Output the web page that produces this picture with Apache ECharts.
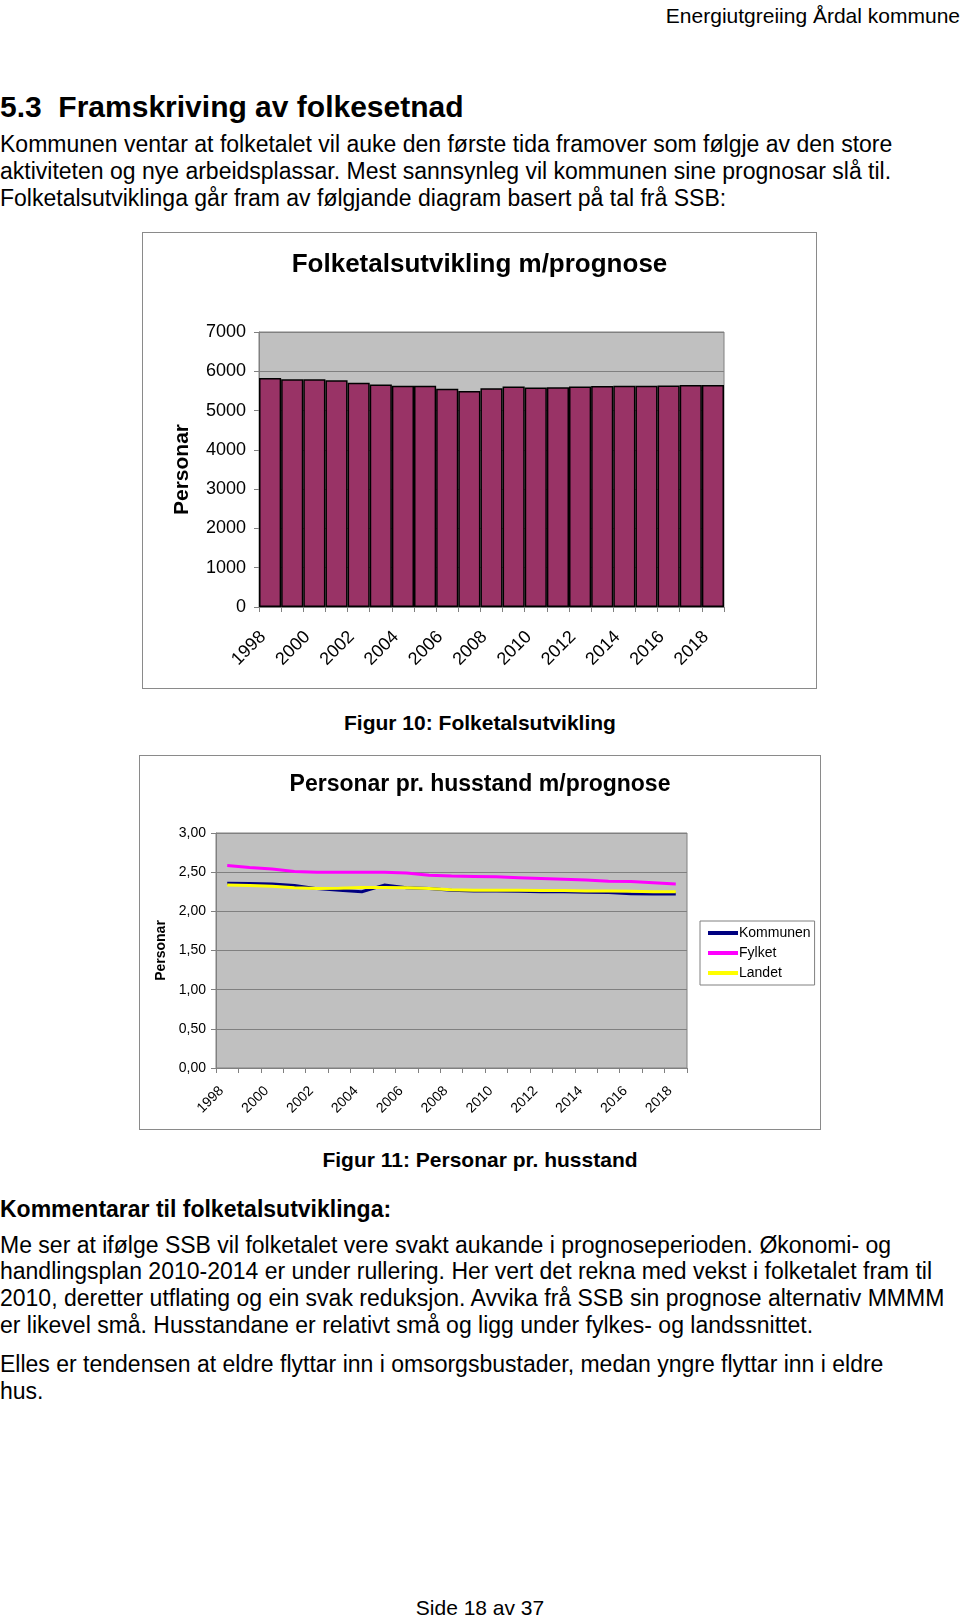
<!DOCTYPE html>
<html><head><meta charset="utf-8">
<script src="https://cdn.jsdelivr.net/npm/echarts@6/dist/echarts.min.js"></script>
<style>
html,body{margin:0;padding:0;background:#fff;}
body{width:960px;height:1619px;position:relative;overflow:hidden;font-family:"Liberation Sans",Arial,sans-serif;color:#000;}
.t{position:absolute;white-space:nowrap;}
.p{font-size:23px;line-height:26px;left:0;}
.c{left:0;width:960px;text-align:center;}
#c1{position:absolute;left:142px;top:232px;width:673px;height:455px;border:1px solid #8a8a8a;}
#c2{position:absolute;left:139px;top:755px;width:680px;height:373px;border:1px solid #8a8a8a;}
</style></head><body>
<div class="t" style="right:0;top:3px;font-size:21px;line-height:26px;">Energiutgreiing Årdal kommune</div>
<div class="t" style="left:0;top:91px;font-size:30px;line-height:32px;font-weight:bold;">5.3&nbsp;&nbsp;Framskriving av folkesetnad</div>
<div class="t p" style="top:131px;">Kommunen ventar at folketalet vil auke den første tida framover som følgje av den store</div>
<div class="t p" style="top:158px;">aktiviteten og nye arbeidsplassar. Mest sannsynleg vil kommunen sine prognosar slå til.</div>
<div class="t p" style="top:185px;">Folketalsutviklinga går fram av følgjande diagram basert på tal frå SSB:</div>
<div id="c1"></div>
<div class="t c" style="top:710px;font-size:21px;line-height:26px;font-weight:bold;">Figur 10: Folketalsutvikling</div>
<div id="c2"></div>
<div class="t c" style="top:1147px;font-size:21px;line-height:26px;font-weight:bold;">Figur 11: Personar pr. husstand</div>
<div class="t" style="left:0;top:1196px;font-size:23px;line-height:26px;font-weight:bold;">Kommentarar til folketalsutviklinga:</div>
<div class="t p" style="top:1232px;">Me ser at ifølge SSB vil folketalet vere svakt aukande i prognoseperioden. Økonomi- og</div>
<div class="t p" style="top:1258px;">handlingsplan 2010-2014 er under rullering. Her vert det rekna med vekst i folketalet fram til</div>
<div class="t p" style="top:1285px;">2010, deretter utflating og ein svak reduksjon. Avvika frå SSB sin prognose alternativ MMMM</div>
<div class="t p" style="top:1312px;">er likevel små. Husstandane er relativt små og ligg under fylkes- og landssnittet.</div>
<div class="t p" style="top:1351px;">Elles er tendensen at eldre flyttar inn i omsorgsbustader, medan yngre flyttar inn i eldre</div>
<div class="t p" style="top:1378px;">hus.</div>
<div class="t c" style="top:1595px;font-size:21px;line-height:26px;">Side 18 av 37</div>
<script>
var years = ['1998','1999','2000','2001','2002','2003','2004','2005','2006','2007','2008','2009','2010','2011','2012','2013','2014','2015','2016','2017','2018'];
var folketal = [5830,5800,5800,5770,5710,5665,5630,5630,5555,5500,5570,5615,5590,5595,5610,5625,5630,5635,5640,5650,5650];
var yTicks1 = [0,1000,2000,3000,4000,5000,6000,7000];
var kommunen = [2.36,2.355,2.35,2.33,2.29,2.27,2.25,2.335,2.30,2.29,2.27,2.26,2.26,2.255,2.25,2.25,2.245,2.24,2.225,2.22,2.22];
var fylket   = [2.585,2.56,2.54,2.51,2.50,2.50,2.50,2.50,2.49,2.46,2.45,2.445,2.44,2.43,2.42,2.41,2.40,2.385,2.38,2.365,2.35];
var landet   = [2.335,2.33,2.32,2.30,2.29,2.295,2.305,2.305,2.30,2.29,2.275,2.27,2.27,2.27,2.265,2.265,2.26,2.26,2.255,2.25,2.25];
var yTicks2 = [0,0.5,1,1.5,2,2.5,3];

var F = '"Liberation Sans", Arial, sans-serif';
var c1 = echarts.init(document.getElementById('c1'));
c1.setOption({
  animation:false,
  textStyle:{fontFamily:F},
  title:{text:'Folketalsutvikling m/prognose',left:'center',top:14,textStyle:{fontFamily:F,fontSize:26,fontWeight:'bold',color:'#000'}},
  grid:{left:116,top:99,width:465,height:275,show:true,backgroundColor:'#C0C0C0',borderColor:'#808080',borderWidth:1},
  xAxis:{type:'category',data:years,
    axisLine:{lineStyle:{color:'#808080',width:1}},
    axisTick:{show:true,interval:0,length:5,lineStyle:{color:'#808080'}},
    axisLabel:{interval:1,rotate:45,fontSize:18,color:'#000',margin:20,padding:[0,10,0,0],fontFamily:F}},
  yAxis:{type:'value',min:yTicks1[0],max:yTicks1[yTicks1.length-1],interval:1000,
    name:'Personar',nameLocation:'middle',nameGap:66,nameTextStyle:{fontSize:21,fontWeight:'bold',color:'#000',fontFamily:F},
    axisLine:{show:true,lineStyle:{color:'#808080'}},
    axisTick:{show:true,length:5,lineStyle:{color:'#808080'}},
    axisLabel:{fontSize:18,color:'#000',margin:13,fontFamily:F,formatter:function(v){return String(v);}},
    splitLine:{show:true,lineStyle:{color:'#808080',width:1}}},
  series:[{type:'bar',data:folketal,barCategoryGap:'0%',
    itemStyle:{color:'#993366',borderColor:'#000',borderWidth:1.5}}]
});

var c2 = echarts.init(document.getElementById('c2'));
c2.setOption({
  animation:false,
  textStyle:{fontFamily:F},
  title:{text:'Personar pr. husstand m/prognose',left:'center',top:12,textStyle:{fontFamily:F,fontSize:23,fontWeight:'bold',color:'#000'}},
  grid:{left:76,top:77,width:471,height:235,show:true,backgroundColor:'#C0C0C0',borderColor:'#808080',borderWidth:1},
  legend:{orient:'vertical',left:560,top:165,itemWidth:30,itemHeight:4,itemGap:6,padding:[5,4,5,6],
    backgroundColor:'#fff',borderColor:'#808080',borderWidth:1,
    lineStyle:{width:4},
    textStyle:{fontSize:14,color:'#000',fontFamily:F,padding:[0,0,0,-4]},
    data:['Kommunen','Fylket','Landet']},
  xAxis:{type:'category',data:years,boundaryGap:true,
    axisLine:{lineStyle:{color:'#808080',width:1}},
    axisTick:{show:true,interval:0,length:5,lineStyle:{color:'#808080'}},
    axisLabel:{interval:1,rotate:45,fontSize:14,color:'#000',margin:15,padding:[0,8,0,0],fontFamily:F}},
  yAxis:{type:'value',min:yTicks2[0],max:yTicks2[yTicks2.length-1],interval:0.5,
    name:'Personar',nameLocation:'middle',nameGap:45,nameTextStyle:{fontSize:14,fontWeight:'bold',color:'#000',fontFamily:F},
    axisLine:{show:true,lineStyle:{color:'#808080'}},
    axisTick:{show:true,length:5,lineStyle:{color:'#808080'}},
    axisLabel:{fontSize:14,color:'#000',margin:10,fontFamily:F,formatter:function(v){return v.toFixed(2).replace('.',',');}},
    splitLine:{show:true,lineStyle:{color:'#808080',width:1}}},
  series:[
    {name:'Kommunen',type:'line',data:kommunen,symbol:'none',lineStyle:{color:'#000080',width:3},itemStyle:{color:'#000080'}},
    {name:'Fylket',type:'line',data:fylket,symbol:'none',lineStyle:{color:'#FF00FF',width:3},itemStyle:{color:'#FF00FF'}},
    {name:'Landet',type:'line',data:landet,symbol:'none',lineStyle:{color:'#FFFF00',width:3},itemStyle:{color:'#FFFF00'}}
  ]
});
</script>
</body></html>
